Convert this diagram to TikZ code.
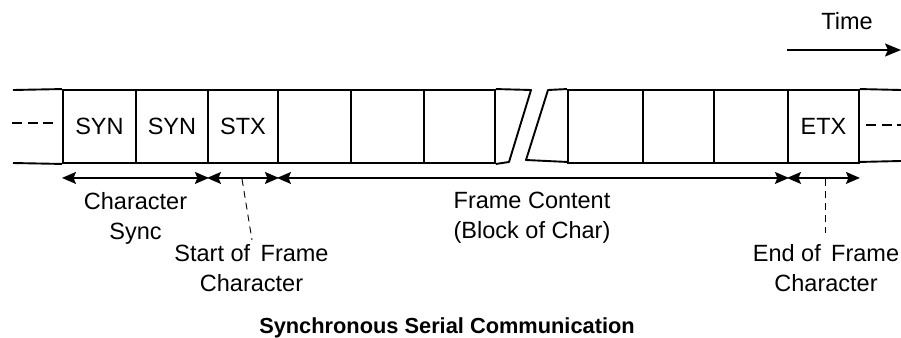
\documentclass[tikz,border=0pt]{standalone}
\usepackage{fontspec}
\setmainfont{Liberation Sans}
\usetikzlibrary{arrows.meta}
\begin{document}
\begin{tikzpicture}[x=1pt,y=-1pt,
  cell/.style={draw,line width=1.9pt,minimum height=73pt,inner sep=0pt,anchor=west,
    font=\fontsize{23.5}{30}\selectfont},
  wire/.style={line width=1.9pt},
  stub/.style={line width=2pt,dash pattern=on 10pt off 5.5pt},
  dim/.style={line width=1.3pt,{Stealth[length=14pt,width=12pt,inset=2.5pt]}-{Stealth[length=14pt,width=12pt,inset=2.5pt]}},
  call/.style={line width=0.9pt,dash pattern=on 7pt off 5pt},
  lab/.style={align=center,inner sep=0pt,anchor=north,font=\fontsize{23.5}{30}\selectfont},
  tarrow/.style={line width=1.9pt,-{Stealth[length=16pt,width=13pt,inset=3pt]}}]
\useasboundingbox (0,0) rectangle (901,337);
% boxes
\node[cell,minimum width=73pt] (b1) at (62,126.5) {SYN};
\node[cell,minimum width=72pt] (b2) at (135,126.5) {SYN};
\node[cell,minimum width=70pt] (b3) at (207,126.5) {STX};
\node[cell,minimum width=73pt] (b4) at (277,126.5) {};
\node[cell,minimum width=73pt] (b5) at (350,126.5) {};
\node[cell,minimum width=71pt] (b6) at (423,126.5) {};
\node[cell,minimum width=75pt] (b7) at (567,126.5) {};
\node[cell,minimum width=71pt] (b8) at (642,126.5) {};
\node[cell,minimum width=74pt] (b9) at (713,126.5) {};
\node[cell,minimum width=71pt] (b10) at (787,126.5) {ETX};
% stubs
\coordinate (lt) at (13,90);
\coordinate (lb) at (13,163);
\draw[wire] (lt) -- (b1.north west);
\draw[wire] (lb) -- (b1.south west);
\coordinate (rt) at (901,90);
\coordinate (rb) at (901,161);
\draw[wire] (b10.north east) -- (rt);
\draw[wire] ([yshift=2pt]b10.south east) -- (rb);
\coordinate (ld1) at (12,123);
\coordinate (ld2) at (53,123);
\draw[stub] (ld1) -- (ld2);
\coordinate (rd1) at (866,125);
\coordinate (rd2) at (901,125);
\draw[stub] (rd1) -- (rd2);
% break
\coordinate (k1) at (531,90);
\coordinate (k2) at (509,162);
\coordinate (k3) at (548,90);
\coordinate (k4) at (526,160);
\draw[wire,line join=round] (b6.north east) -- (k1) -- (k2) -- (b6.south east);
\draw[wire,line join=round] (b7.north west) -- (k3) -- (k4) -- ([yshift=2pt]b7.south west);
% dimension arrows
\draw[dim] ([yshift=-14pt]b1.south west) -- ([yshift=-14pt]b2.south east);
\draw[dim] ([yshift=-14pt]b3.south west) -- ([yshift=-14pt]b3.south east);
\draw[dim] ([yshift=-14pt]b4.south west) -- ([yshift=-14pt]b9.south east);
\draw[dim] ([yshift=-14pt]b10.south west) -- ([yshift=-14pt]b10.south east);
% labels
\node[lab] (l1) at (135.5,192) {Character\\Sync};
\node[lab] (l2) at (532,192) {Frame Content\\(Block of Char)};
\node[lab] (l3) at (251.5,244) {Start of\ \,Frame\\Character};
\node[lab] (l4) at (826,244) {End of\ \,Frame\\Character};
\node[lab] (tm) at (847,12) {Time};
\node[lab,font=\fontsize{21.8}{30}\selectfont\bfseries] (ttl) at (447,317) {Synchronous Serial Communication};
% callouts
\coordinate (c1) at (242,179);
\coordinate (c1e) at (252,240);
\draw[call] (c1) -- (c1e);
\coordinate (c2) at (825,179);
\coordinate (c2e) at (825,233);
\draw[call] (c2) -- (c2e);
% time arrow
\coordinate (t1) at (787,50);
\coordinate (t2) at (901,50);
\draw[tarrow] (t1) -- (t2);
\end{tikzpicture}
\end{document}
